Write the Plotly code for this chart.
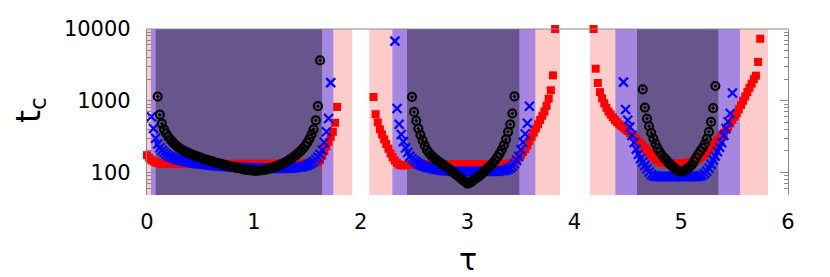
import numpy as np
import plotly.graph_objects as go

STEP = 0.02

# ---------------- data (tau grid start + t_c values, step 0.02) ----------------
red_seg1_start = 0.00
red_seg1 = [175, 160, 150, 143, 139, 136, 134, 133,
            133, 133, 133, 133, 133, 133, 133, 133, 133, 133, 133, 133, 133,
            132, 132, 132, 132, 132, 132, 132, 132, 132, 132, 132, 132, 132, 132,
            132, 132, 132, 132, 132, 132, 132, 132, 132, 132, 132, 132, 132, 132,
            132, 132, 132, 132, 132, 132, 132, 132, 132, 132, 132, 132,
            133, 133, 133, 133, 133, 133, 133, 133, 133, 133,
            134, 134, 134, 134, 134,
            135, 136, 137, 138, 140, 148, 172, 200, 233, 268, 315, 370, 493, 821]
red_seg2_start = 2.12
red_seg2 = [1130, 650, 500, 400, 340, 290, 250, 215, 185, 163, 147, 136, 129, 126, 126, 127, 128, 129, 130,
            130, 130, 130, 130, 130, 130, 130, 130, 130, 130, 130, 130, 130, 130, 130, 130,
            130, 130, 130, 130, 130, 130, 130, 130, 130, 130, 130, 130, 130, 130, 130, 130,
            130, 130, 130, 130, 130, 130, 130, 130, 130, 131, 131, 132, 132, 133,
            134, 140, 150, 162, 176, 192, 212, 240, 275, 315, 360, 410, 470, 540, 620, 710, 850,
            1070, 1400, 2260, 10000]
red_seg3_start = 4.18
red_seg3 = [10000, 2800, 1770, 1320, 1080, 920, 800, 710, 645, 590, 540, 505, 470, 445, 420, 398, 378,
            356, 333, 310, 290, 270, 252, 236, 220, 205, 191, 178, 166, 156, 148, 142, 138, 136, 135,
            134, 134, 133, 133, 133, 133, 133, 134, 135, 137, 140, 143, 146, 150, 156, 163, 171, 182,
            195, 209, 224, 240, 258, 278, 300, 326, 355, 392, 432, 485, 540, 600, 665, 760, 870, 1000,
            1150, 1320, 1520, 1730, 2000, 2240, 3480, 7310]

blue_seg1_start = 0.04
blue_seg1 = [600, 410, 300, 250, 222, 203, 190, 180, 172, 166, 161, 157, 153, 150, 147, 145, 143, 141,
             139, 137, 136, 134, 133, 132, 131, 130, 129, 128, 127, 126, 125, 124, 123, 123, 122, 121,
             121, 120, 120, 119, 119, 118, 118, 118, 117, 117, 117, 117, 117, 116, 116, 116, 116, 116,
             115, 115, 115, 115, 115, 115, 115, 115, 115, 115, 115, 116, 116, 117, 118, 119, 120, 122,
             124, 127, 131, 136, 143, 152, 163, 178, 205, 265, 370, 565, 1790]
blue_seg2_start = 2.32
blue_seg2 = [6780, 780, 470, 340, 270, 220, 190, 168, 156, 147, 140, 134, 129, 125, 122, 119, 117, 115,
             113, 111, 110, 109, 108, 107, 106, 105, 105, 104, 104, 104, 103, 103, 103, 103, 103, 103,
             103, 103, 103, 103, 104, 104, 104, 104, 104, 104, 104, 104, 104, 105, 106, 107, 109, 112,
             116, 123, 133, 148, 168, 210, 265, 345, 485, 840]
blue_seg3_start = 4.46
blue_seg3 = [1820, 755, 536, 430, 330, 262, 212, 180, 157, 140, 125, 113, 102, 94, 90, 89, 88,
             88, 88, 88, 88, 88, 88, 88, 88, 88, 88, 88, 88, 88, 88, 88, 88, 88, 88,
             89, 90, 92, 97, 104, 115, 130, 150, 170, 195, 225, 260, 330, 410, 510, 665, 1280]

black_seg1_start = 0.10
black_seg1 = [1143, 640, 480, 400, 350, 315, 288, 266, 248, 233, 221, 211, 203, 196, 190, 184, 179,
              174, 169, 165, 161, 157, 153, 150, 147, 144, 141, 138, 135, 133, 131, 128, 126, 124,
              122, 120, 118, 117, 115, 113, 112, 110, 109, 108, 107, 106, 106, 106, 107, 108, 109,
              111, 113, 115, 118, 121, 124, 127, 131, 135, 140, 146, 153, 160, 169, 178, 189, 201,
              217, 236, 262, 295, 340, 400, 535, 840, 3650]
black_seg2_start = 2.48
black_seg2 = [1130, 700, 525, 410, 335, 280, 238, 207, 188, 174, 163, 154, 146, 139, 132, 126, 121,
              115, 109, 103, 97, 92, 87, 82, 78, 74, 70, 72, 75, 79, 83, 87, 92, 98, 105, 112, 119,
              127, 137, 149, 164, 183, 207, 240, 290, 370, 470, 665, 1150]
black_seg3_start = 4.64
black_seg3 = [1446, 805, 566, 442, 357, 298, 252, 218, 193, 175, 161, 150, 139, 129, 121, 114, 108,
              104, 103, 105, 109, 114, 120, 129, 142, 160, 180, 200, 220, 250, 295, 370, 510, 790, 1607]

# tau extents covered by each series (shaded bands)
red_spans = [(0.00, 1.922), (2.081, 3.866), (4.147, 5.813)]
blue_spans = [(0.037, 1.744), (2.297, 3.635), (4.384, 5.551)]
black_spans = [(0.081, 1.638), (2.434, 3.485), (4.587, 5.348)]

x_ticks = [0, 1, 2, 3, 4, 5, 6]
y_ticks = [100, 1000, 10000]
y_minor = [50, 60, 70, 80, 90, 200, 300, 400, 500, 600, 700, 800, 900,
           2000, 3000, 4000, 5000, 6000, 7000, 8000, 9000]


def build(segments):
    xs, ys = [], []
    for start, vals in segments:
        xs.extend(np.round(start + STEP * np.arange(len(vals)), 3).tolist())
        ys.extend(vals)
    return xs, ys


red_x, red_y = build([(red_seg1_start, red_seg1), (red_seg2_start, red_seg2), (red_seg3_start, red_seg3)])
blue_x, blue_y = build([(blue_seg1_start, blue_seg1), (blue_seg2_start, blue_seg2), (blue_seg3_start, blue_seg3)])
black_x, black_y = build([(black_seg1_start, black_seg1), (black_seg2_start, black_seg2), (black_seg3_start, black_seg3)])

FONT = "DejaVu Sans"
GRAY = "#8a8a8a"

fig = go.Figure()

shapes = []
for spans, col in [(red_spans, "#ffcccc"), (blue_spans, "#a586e0"), (black_spans, "#67558c")]:
    for a, b in spans:
        shapes.append(dict(type="rect", xref="x", yref="paper", x0=a, x1=b, y0=0, y1=1,
                           fillcolor=col, line=dict(width=0), layer="below"))
shapes.append(dict(type="line", xref="paper", yref="paper", x0=0, x1=1, y0=1, y1=1,
                   line=dict(color=GRAY, width=1.2), layer="above"))

fig.add_trace(go.Scatter(x=red_x, y=red_y, mode="markers", cliponaxis=False,
                         marker=dict(symbol="square", size=8, color="#ff0000", line=dict(width=0))))
fig.add_trace(go.Scatter(x=blue_x, y=blue_y, mode="markers",
                         marker=dict(symbol="x-thin", size=9, color="#0000ff",
                                     line=dict(width=2.2, color="#0000ff"))))
fig.add_trace(go.Scatter(x=black_x, y=black_y, mode="markers",
                         marker=dict(symbol="circle-open-dot", size=8, color="#000000",
                                     line=dict(width=2.2, color="#000000"))))

# The page body adds an 8px offset, so the figure is 822x269 and the plot
# area sits at x 139..780, y 21..187 inside it.
annotations = [
    dict(text="τ", xref="paper", yref="paper", x=(460 - 139) / 641, y=(187 - 251) / 166,
         xanchor="center", yanchor="middle", showarrow=False, height=28,
         font=dict(size=30, family=FONT, color="black")),
    dict(text="t<sub>c</sub>", xref="paper", yref="paper", x=(22 - 139) / 641, y=(187 - 102) / 166,
         xanchor="center", yanchor="middle", showarrow=False, textangle=-90, height=32,
         font=dict(size=33, family=FONT, color="black")),
]

fig.update_layout(
    width=822, height=269,
    margin=dict(l=139, r=42, t=21, b=82, autoexpand=False),
    paper_bgcolor="white", plot_bgcolor="white",
    showlegend=False,
    shapes=shapes,
    annotations=annotations,
    font=dict(family=FONT, color="black"),
    xaxis=dict(range=[0, 6], tickvals=x_ticks, ticks="", showline=False, showgrid=False,
               zeroline=False, tickfont=dict(size=21, family=FONT), ticklabelstandoff=12,
               automargin=False),
    yaxis=dict(type="log", range=[1.6875, 4.0], tickvals=y_ticks, ticktext=[str(v) for v in y_ticks],
               ticks="inside", ticklen=8, tickcolor=GRAY, tickwidth=1,
               showline=True, linecolor=GRAY, linewidth=1.2, mirror="ticks",
               showgrid=False, zeroline=False, tickfont=dict(size=21, family=FONT),
               ticklabelstandoff=11, automargin=False,
               minor=dict(tickvals=y_minor, ticks="inside", ticklen=4, tickcolor=GRAY, showgrid=False)),
)

fig.write_html("out.html")
